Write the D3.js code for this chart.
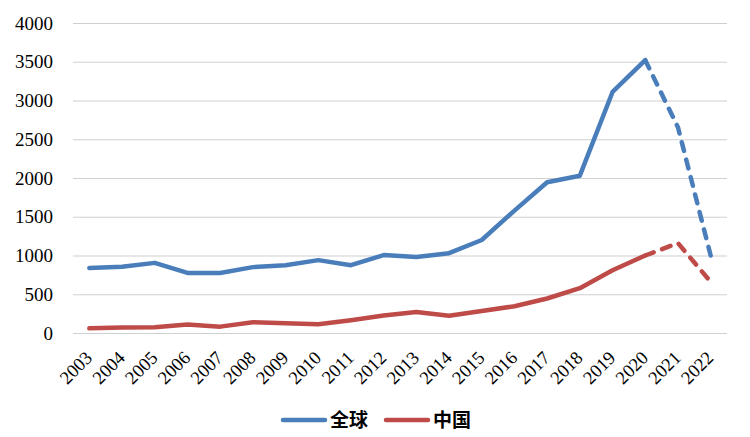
<!DOCTYPE html>
<html><head><meta charset="utf-8">
<script src="https://cdn.jsdelivr.net/npm/d3@7/dist/d3.min.js"></script>
<style>body{margin:0;background:#fff}svg{display:block}
.serif{font-family:"Liberation Serif","Times New Roman",serif}
.cjk{font-family:"Noto Sans CJK SC","Noto Sans CJK JP",sans-serif;font-weight:bold}
</style>
</head><body>
<script>
const years = ["2003","2004","2005","2006","2007","2008","2009","2010","2011","2012","2013","2014","2015","2016","2017","2018","2019","2020","2021","2022"];
const globalVals = [840,855,905,775,775,850,875,940,875,1005,980,1030,1200,1580,1945,2030,3110,3520,2655,1000];
const chinaVals = [60,70,75,110,82,140,125,112,165,225,270,222,285,345,445,578,810,1000,1160,660];
const yTicks = [0,500,1000,1500,2000,2500,3000,3500,4000];
const seriesNames = ["全球","中国"];
const solidUntil = 17; // index of 2020: dashed afterwards

const W=750,H=437;
const svg=d3.select("body").append("svg").attr("width",W).attr("height",H);
const x=d3.scaleBand().domain(years).range([73,727]);
const y=d3.scaleLinear().domain([0,4000]).range([333,23]);
const cx=d=>x(d)+x.bandwidth()/2;

// gridlines
svg.append("g").selectAll("line").data(yTicks).join("line")
 .attr("x1",73).attr("x2",727).attr("y1",d=>y(d)+0.5).attr("y2",d=>y(d)+0.5)
 .attr("stroke","#d0d0d0").attr("stroke-width",1.2);

// y labels
svg.append("g").selectAll("text").data(yTicks).join("text")
 .attr("class","serif")
 .attr("x",53).attr("y",d=>y(d)).attr("dy","0.35em").attr("text-anchor","end")
 .attr("font-size",19).attr("fill","#000").text(d=>d);

// x labels
svg.append("g").selectAll("text").data(years).join("text")
 .attr("class","serif")
 .attr("transform",d=>`translate(${cx(d)+4},359) rotate(-45)`).attr("text-anchor","end")
 .attr("font-size",18.5).attr("fill","#000").text(d=>d);

const colors=["#4a7ebb","#be4b48"];
const data=[globalVals,chinaVals];
const line=d3.line().x(d=>cx(d.year)).y(d=>y(d.v));
data.forEach((vals,i)=>{
  const pts=vals.map((v,j)=>({year:years[j],v}));
  svg.append("path").attr("d",line(pts.slice(0,solidUntil+1)))
   .attr("fill","none").attr("stroke",colors[i]).attr("stroke-width",4.5)
   .attr("stroke-linejoin","round").attr("stroke-linecap","round");
  svg.append("path").attr("d",line(pts.slice(solidUntil)))
   .attr("fill","none").attr("stroke",colors[i]).attr("stroke-width",4.5)
   .attr("stroke-dasharray","9,9").attr("stroke-linejoin","round").attr("stroke-linecap","round");
});

// legend
const legX=[283,386];
seriesNames.forEach((n,i)=>{
  svg.append("line").attr("x1",legX[i]).attr("x2",legX[i]+42).attr("y1",420).attr("y2",420)
   .attr("stroke",colors[i]).attr("stroke-width",4.5).attr("stroke-linecap","round");
  svg.append("text").attr("class","cjk").attr("x",legX[i]+47).attr("y",420).attr("dy","0.38em")
   .attr("font-size",19).attr("fill","#000").text(n);
});
</script>
</body></html>
